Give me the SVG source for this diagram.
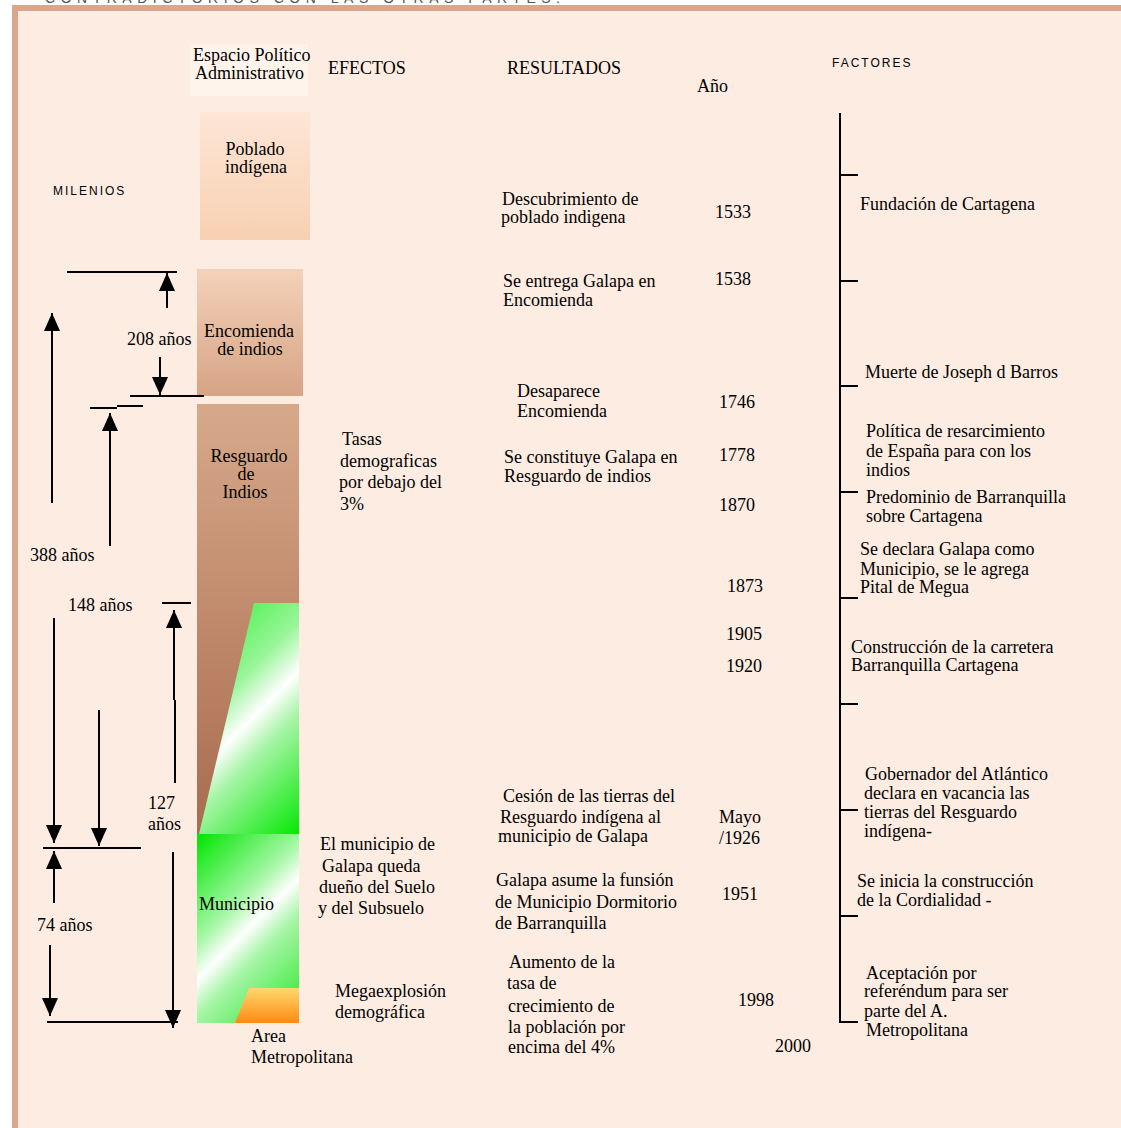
<svg xmlns="http://www.w3.org/2000/svg" width="1121" height="1128" viewBox="0 0 1121 1128">
<style>
.t{font-family:"Liberation Serif","Times New Roman",serif;font-size:18px;fill:#000}
.c{text-anchor:middle}
.s{font-family:"Liberation Sans",Arial,sans-serif;font-size:12px;letter-spacing:2px;fill:#000}
.ln{stroke:#000;stroke-width:2;fill:none}
.ar{stroke:#000;stroke-width:2;fill:none;marker-end:url(#ah)}
</style>
<defs>
<marker id="ah" markerUnits="userSpaceOnUse" markerWidth="18" markerHeight="16" viewBox="0 0 18 16" refX="18" refY="8" orient="auto">
<path d="M0,0 L18,8 L0,16 Z" fill="#000"/>
</marker>
<linearGradient id="gPob" x1="0" y1="0" x2="0" y2="1">
<stop offset="0" stop-color="#fde6d6"/><stop offset="1" stop-color="#f8d0b2"/>
</linearGradient>
<linearGradient id="gEnc" x1="0" y1="0" x2="0" y2="1">
<stop offset="0" stop-color="#f4d2b9"/><stop offset="1" stop-color="#d6a385"/>
</linearGradient>
<linearGradient id="gRes" x1="0" y1="0" x2="0" y2="1">
<stop offset="0" stop-color="#d7a98b"/><stop offset="0.5" stop-color="#c0896c"/><stop offset="1" stop-color="#a86c50"/>
</linearGradient>
<linearGradient id="gTrap" gradientUnits="userSpaceOnUse" x1="162" y1="642" x2="328" y2="808">
<stop offset="0" stop-color="#33ee33"/><stop offset="0.35" stop-color="#99f599"/><stop offset="0.5" stop-color="#ffffff"/><stop offset="0.62" stop-color="#aaf5aa"/><stop offset="1" stop-color="#00e800"/>
</linearGradient>
<linearGradient id="gMun" gradientUnits="userSpaceOnUse" x1="176" y1="856" x2="321" y2="1001">
<stop offset="0" stop-color="#00e600"/><stop offset="0.38" stop-color="#aaf8aa"/><stop offset="0.5" stop-color="#ffffff"/><stop offset="0.62" stop-color="#aaf5aa"/><stop offset="1" stop-color="#22e822"/>
</linearGradient>
<linearGradient id="gArea" x1="0" y1="0" x2="0" y2="1">
<stop offset="0" stop-color="#ffd870"/><stop offset="1" stop-color="#ff8a10"/>
</linearGradient>
</defs>

<rect x="0" y="0" width="1121" height="1128" fill="#ffffff"/>
<text x="45" y="3" font-family="Liberation Sans, Arial, sans-serif" font-size="14" fill="#555" textLength="515" lengthAdjust="spacing">CONTRADICTORIOS CON LAS OTRAS PARTES.</text>
<rect x="12" y="5" width="1109" height="1123" fill="#d9a78b"/>
<rect x="18" y="11" width="1103" height="1117" fill="#fdece2"/>

<g id="headers">
<rect x="190" y="44" width="118" height="52" fill="#fff4ec"/>
<text class="t" x="193" y="61">Espacio Político</text>
<text class="t" x="195" y="79">Administrativo</text>
<text class="t" x="328" y="74">EFECTOS</text>
<text class="t" x="507" y="74">RESULTADOS</text>
<text class="t" x="697" y="92">Año</text>
<text class="s" x="832" y="67">FACTORES</text>
<text class="s" x="53" y="195">MILENIOS</text>
</g>

<g id="poblado-indigena">
<rect x="200" y="112" width="110" height="128" fill="url(#gPob)"/>
<text class="t c" x="255" y="155">Poblado</text>
<text class="t c" x="256" y="173">indígena</text>
</g>

<g id="encomienda">
<rect x="197" y="269" width="106" height="127" fill="url(#gEnc)"/>
<text class="t c" x="249" y="337">Encomienda</text>
<text class="t c" x="250" y="355">de indios</text>
</g>

<g id="resguardo">
<rect x="197" y="404" width="102" height="430" fill="url(#gRes)"/>
<text class="t c" x="249" y="462">Resguardo</text>
<text class="t c" x="246" y="480">de</text>
<text class="t c" x="245" y="498">Indios</text>
<polygon points="254,603 299,603 299,834 199,834" fill="url(#gTrap)"/>
</g>

<g id="municipio">
<rect x="197" y="834" width="102" height="189" fill="url(#gMun)"/>
<text class="t" x="199" y="910">Municipio</text>
</g>

<g id="area-metropolitana">
<polygon points="249,988 299,988 299,1023 235,1023" fill="url(#gArea)"/>
<text class="t" x="251" y="1042">Area</text>
<text class="t" x="251" y="1063">Metropolitana</text>
</g>

<g id="connectors">
<line class="ln" x1="67" y1="272" x2="177" y2="272"/>
<line class="ar" x1="167" y1="308" x2="167" y2="273"/>
<line class="ar" x1="160" y1="357" x2="160" y2="395"/>
<line class="ln" x1="130" y1="396" x2="204" y2="396"/>
<line class="ln" x1="90" y1="408" x2="117" y2="408"/>
<line class="ln" x1="117" y1="406" x2="143" y2="406"/>
<line class="ar" x1="110" y1="546" x2="110" y2="413"/>
<line class="ar" x1="52" y1="503" x2="52" y2="313"/>
<line class="ln" x1="162" y1="603" x2="191" y2="603"/>
<line class="ar" x1="174" y1="700" x2="174" y2="610"/>
<line class="ln" x1="175" y1="700" x2="175" y2="783"/>
<line class="ar" x1="54" y1="618" x2="54" y2="843"/>
<line class="ar" x1="99" y1="710" x2="99" y2="846"/>
<line class="ln" x1="43" y1="848" x2="141" y2="848"/>
<line class="ar" x1="54" y1="903" x2="54" y2="851"/>
<line class="ar" x1="50" y1="945" x2="50" y2="1016"/>
<line class="ln" x1="47" y1="1022" x2="178" y2="1022"/>
<line class="ar" x1="173" y1="852" x2="173" y2="1028"/>
</g>

<g id="duration-labels">
<text class="t" x="127" y="345">208 años</text>
<text class="t" x="30" y="561">388 años</text>
<text class="t" x="68" y="611">148 años</text>
<text class="t" x="148" y="809">127</text>
<text class="t" x="148" y="830">años</text>
<text class="t" x="37" y="931">74 años</text>
</g>

<g id="efectos">
<text class="t" x="342" y="445">Tasas</text>
<text class="t" x="340" y="467">demograficas</text>
<text class="t" x="339" y="488">por debajo del</text>
<text class="t" x="340" y="510">3%</text>
<text class="t" x="320" y="850">El municipio de</text>
<text class="t" x="322" y="872">Galapa queda</text>
<text class="t" x="319" y="893">dueño del Suelo</text>
<text class="t" x="318" y="914">y del Subsuelo</text>
<text class="t" x="335" y="997">Megaexplosión</text>
<text class="t" x="335" y="1018">demográfica</text>
</g>

<g id="resultados">
<text class="t" x="502" y="205">Descubrimiento de</text>
<text class="t" x="501" y="223">poblado indigena</text>
<text class="t" x="503" y="287">Se entrega Galapa en</text>
<text class="t" x="503" y="306">Encomienda</text>
<text class="t" x="517" y="397">Desaparece</text>
<text class="t" x="517" y="417">Encomienda</text>
<text class="t" x="504" y="463">Se constituye Galapa en</text>
<text class="t" x="504" y="482">Resguardo de indios</text>
<text class="t" x="503" y="802">Cesión de las tierras del</text>
<text class="t" x="500" y="823">Resguardo indígena al</text>
<text class="t" x="498" y="842">municipio de Galapa</text>
<text class="t" x="496" y="886">Galapa asume la funsión</text>
<text class="t" x="495" y="908">de Municipio Dormitorio</text>
<text class="t" x="495" y="929">de Barranquilla</text>
<text class="t" x="509" y="968">Aumento de la</text>
<text class="t" x="507" y="989">tasa de</text>
<text class="t" x="508" y="1012">crecimiento de</text>
<text class="t" x="508" y="1033">la población por</text>
<text class="t" x="508" y="1053">encima del 4%</text>
</g>

<g id="anos">
<text class="t" x="715" y="218">1533</text>
<text class="t" x="715" y="285">1538</text>
<text class="t" x="719" y="408">1746</text>
<text class="t" x="719" y="461">1778</text>
<text class="t" x="719" y="511">1870</text>
<text class="t" x="727" y="592">1873</text>
<text class="t" x="726" y="640">1905</text>
<text class="t" x="726" y="672">1920</text>
<text class="t" x="719" y="823">Mayo</text>
<text class="t" x="719" y="844">/1926</text>
<text class="t" x="722" y="900">1951</text>
<text class="t" x="738" y="1006">1998</text>
<text class="t" x="775" y="1052">2000</text>
</g>

<g id="timeline">
<line class="ln" x1="840" y1="113" x2="840" y2="1023"/>
<line class="ln" x1="840" y1="175" x2="858" y2="175"/>
<line class="ln" x1="840" y1="281" x2="858" y2="281"/>
<line class="ln" x1="840" y1="386" x2="858" y2="386"/>
<line class="ln" x1="840" y1="492" x2="858" y2="492"/>
<line class="ln" x1="840" y1="598" x2="858" y2="598"/>
<line class="ln" x1="840" y1="704" x2="858" y2="704"/>
<line class="ln" x1="840" y1="810" x2="858" y2="810"/>
<line class="ln" x1="840" y1="916" x2="858" y2="916"/>
<line class="ln" x1="840" y1="1022" x2="858" y2="1022"/>
</g>

<g id="factores">
<text class="t" x="860" y="210">Fundación de Cartagena</text>
<text class="t" x="865" y="378">Muerte de Joseph d Barros</text>
<text class="t" x="866" y="437">Política de resarcimiento</text>
<text class="t" x="866" y="457">de España para con los</text>
<text class="t" x="866" y="476">indios</text>
<text class="t" x="866" y="503">Predominio de Barranquilla</text>
<text class="t" x="866" y="522">sobre Cartagena</text>
<text class="t" x="860" y="555">Se declara Galapa como</text>
<text class="t" x="860" y="575">Municipio, se le agrega</text>
<text class="t" x="860" y="593">Pital de Megua</text>
<text class="t" x="851" y="653">Construcción de la carretera</text>
<text class="t" x="851" y="671">Barranquilla Cartagena</text>
<text class="t" x="865" y="780">Gobernador del Atlántico</text>
<text class="t" x="864" y="799">declara en vacancia las</text>
<text class="t" x="864" y="818">tierras del Resguardo</text>
<text class="t" x="864" y="837">indígena-</text>
<text class="t" x="857" y="887">Se inicia la construcción</text>
<text class="t" x="857" y="906">de la Cordialidad -</text>
<text class="t" x="866" y="979">Aceptación por</text>
<text class="t" x="864" y="997">referéndum para ser</text>
<text class="t" x="864" y="1017">parte del A.</text>
<text class="t" x="866" y="1036">Metropolitana</text>
</g>
</svg>
